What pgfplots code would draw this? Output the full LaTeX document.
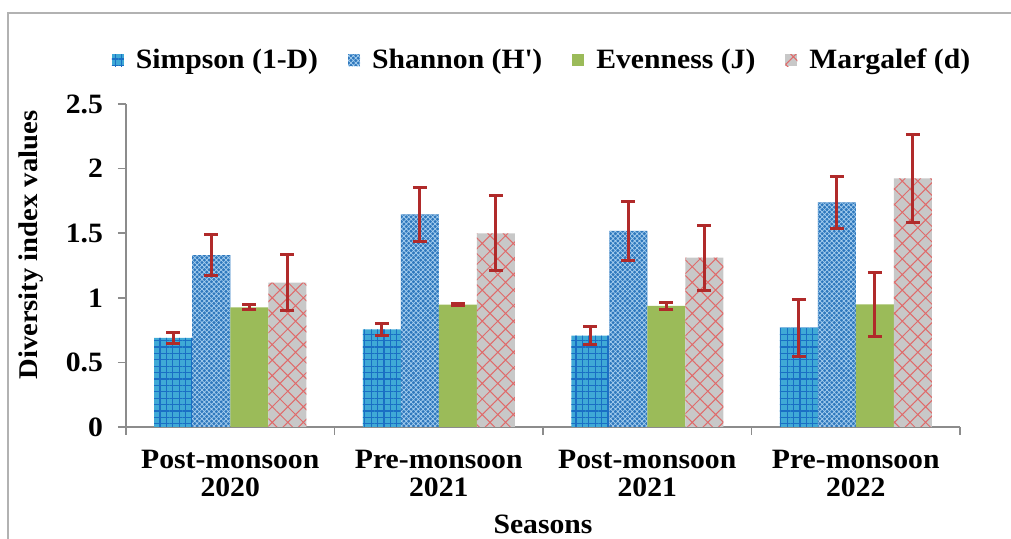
\documentclass[border=0pt]{standalone}
\usepackage{fontspec}
\setmainfont{Liberation Serif}[FakeStretch=1.06]
\usepackage{pgfplots}
\pgfplotsset{compat=1.18}
\usetikzlibrary{patterns.meta}
\definecolor{simpfill}{HTML}{3FA9D6}
\definecolor{simpline}{HTML}{1A6FC4}
\definecolor{shanfill}{HTML}{2F78BD}
\definecolor{shanline}{HTML}{A8D0F0}
\definecolor{evenfill}{HTML}{9BBB59}
\definecolor{margfill}{HTML}{C8C8C8}
\definecolor{margline}{HTML}{E06A6A}
\definecolor{errcol}{HTML}{B02A2A}
\definecolor{axgray}{HTML}{8C8C8C}

\pgfplotstableread{
x y e
0 0.690 0.045
1 0.756 0.045
2 0.707 0.070
3 0.769 0.220
}\simpson
\pgfplotstableread{
x y e
0 1.330 0.160
1 1.646 0.210
2 1.517 0.230
3 1.739 0.200
}\shannon
\pgfplotstableread{
x y e
0 0.926 0.020
1 0.947 0.010
2 0.937 0.025
3 0.949 0.250
}\evenness
\pgfplotstableread{
x y e
0 1.117 0.215
1 1.499 0.290
2 1.310 0.250
3 1.925 0.340
}\margalef

\begin{document}
\begin{tikzpicture}
\useasboundingbox (-63pt,-56pt) rectangle (442.5pt,213.5pt);
\draw[black!30, line width=0.6pt] (-59pt,-56pt) -- (-59pt,207pt) -- (442.5pt,207pt);
\begin{axis}[
  at={(0,0)}, anchor=south west, scale only axis,
  width=417pt, height=161.5pt,
  ybar=0pt, bar width=19pt,
  xmin=-0.5, xmax=3.5, ymin=0, ymax=2.5,
  xtick={-0.5,0.5,1.5,2.5,3.5},
  x tick label as interval,
  xticklabels={{Post-monsoon\\2020},{Pre-monsoon\\2021},{Post-monsoon\\2021},{Pre-monsoon\\2022}},
  ytick={0,0.5,1,1.5,2,2.5},
  axis x line=bottom, axis y line=left,
  axis line style={-, axgray, line width=0.8pt},
  tick style={axgray, line width=0.8pt},
  tick align=outside, major tick length=4pt,
  /pgf/number format/assume math mode=true,
  ticklabel style={font=\bfseries\fontsize{14}{14}\selectfont},
  xticklabel style={align=center, yshift=-4pt},
  yticklabel style={xshift=-4pt},
  xlabel={Seasons},
  ylabel={Diversity index values},
  xlabel style={font=\bfseries\fontsize{14}{14}\selectfont, at={(axis description cs:0.5,-0.300)}, anchor=center},
  ylabel style={font=\bfseries\fontsize{13.5}{14}\selectfont, at={(axis description cs:-0.114,0.563)}, anchor=center},
  legend columns=4,
  legend style={at={(axis description cs:0.5,1.136)}, anchor=center, draw=none, fill=none,
    font=\bfseries\fontsize{14}{14}\selectfont,
    /tikz/every even column/.append style={column sep=13pt},
    /tikz/every odd column/.append style={column sep=4pt}},
  legend image code/.code={\draw[#1,draw=none] (0pt,-3pt) rectangle (6pt,3pt);},
  error bars/y dir=both, error bars/y explicit,
  error bars/error bar style={errcol, line width=1.5pt},
  error bars/error mark options={errcol, line width=1.5pt, mark size=3.5pt, rotate=90},
]
\addplot[draw=none, fill=simpfill, postaction={pattern={Hatch[angle=0,distance=3.2pt,line width=0.55pt]}, pattern color=simpline}]
  table[x=x, y=y, y error=e] {\simpson};
\addplot[draw=none, fill=shanfill, postaction={pattern={Hatch[angle=45,distance=1.7pt,line width=0.35pt]}, pattern color=shanline}]
  table[x=x, y=y, y error=e] {\shannon};
\addplot[draw=none, fill=evenfill]
  table[x=x, y=y, y error=e] {\evenness};
\addplot[draw=none, fill=margfill, postaction={pattern={Hatch[angle=45,distance=5.5pt,line width=0.5pt]}, pattern color=margline}]
  table[x=x, y=y, y error=e] {\margalef};
\legend{Simpson (1-D), Shannon (H\textquotesingle), Evenness (J), Margalef (d)}
\end{axis}
\end{tikzpicture}
\end{document}
